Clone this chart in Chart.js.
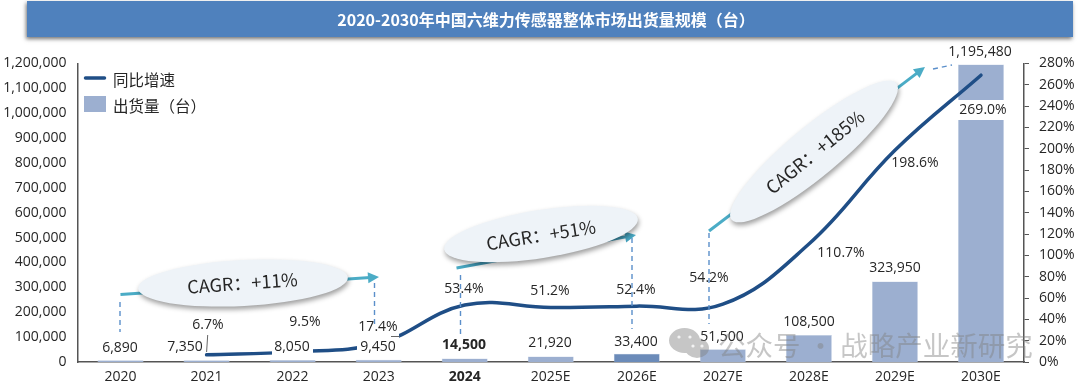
<!DOCTYPE html>
<html><head><meta charset="utf-8">
<style>html,body{margin:0;padding:0;background:#fff;overflow:hidden}canvas{display:block}</style>
<script src="https://cdn.jsdelivr.net/npm/chart.js@4"></script></head>
<body><canvas id="c" width="1080" height="387"></canvas>
<script>
const categories = ['2020','2021','2022','2023','2024','2025E','2026E','2027E','2028E','2029E','2030E'];
const shipments = [6890,7350,8050,9450,14500,21920,33400,51500,108500,323950,1195480];
const growth = [null,6.7,9.5,17.4,53.4,51.2,52.4,54.2,110.7,198.6,269.0];
const barTickMax = 1200000, growthTickMax = 280;

const titleText = '2020-2030年中国六维力传感器整体市场出货量规模（台）';
const FONT = '"Open Sans","Noto Sans CJK SC",sans-serif';
const CJK = '"Noto Sans CJK SC","Open Sans",sans-serif';
const INK = '#262626', BAR = '#9cafd0', BAR_DARK = '#6b8bb9', LINE = '#1f4e86', TEAL = '#4bacc6', DASH = '#5b8fca';

// label placement (pixels of the text centre)
const barLabelPos = [[120,348],[185,347],[292,347],[378,347],[464,345],[550,343],[636,342],[722,337],[809,322],[895,268],[980,52]];
const growthLabelPos = [null,[208,325],[305,322],[378,327],[464,289],[550,291],[636,290],[709,278],[841,253],[915,163],[983,110]];
const growthLabelBg = [0,0,0,0,0,0,0,0,0,0,1];
// white patches behind labels that interrupt the line
const maskRects = [[272,342,41,16],[357,333,42,25]];

function ellipse(ctx,cx,cy,rx,ry,rot){
  ctx.save();
  ctx.shadowColor='rgba(0,0,0,.38)';ctx.shadowBlur=5;ctx.shadowOffsetX=1;ctx.shadowOffsetY=3;
  ctx.fillStyle='#eef3f8';ctx.beginPath();ctx.ellipse(cx,cy,rx,ry,rot*Math.PI/180,0,Math.PI*2);ctx.fill();
  ctx.restore();
}
function rotText(ctx,t,x,y,rot){
  ctx.save();ctx.translate(x,y);ctx.rotate(rot*Math.PI/180);
  ctx.font='18px '+CJK;ctx.fillStyle=INK;ctx.textAlign='center';ctx.textBaseline='middle';
  ctx.fillText(t,0,0);ctx.restore();
}
function arrow(ctx,x0,y0,x1,y1,style){
  const a=Math.atan2(y1-y0,x1-x0),L=11,W=5.5;
  ctx.save();ctx.strokeStyle=style;ctx.fillStyle=style;ctx.lineWidth=3;
  ctx.beginPath();ctx.moveTo(x0,y0);ctx.lineTo(x1-L*.8*Math.cos(a),y1-L*.8*Math.sin(a));ctx.stroke();
  ctx.beginPath();ctx.moveTo(x1,y1);
  ctx.lineTo(x1-L*Math.cos(a)+W*Math.sin(a),y1-L*Math.sin(a)-W*Math.cos(a));
  ctx.lineTo(x1-L*Math.cos(a)-W*Math.sin(a),y1-L*Math.sin(a)+W*Math.cos(a));
  ctx.closePath();ctx.fill();ctx.restore();
}
function dash(ctx,x0,y0,x1,y1){
  ctx.save();ctx.strokeStyle=DASH;ctx.lineWidth=1.4;ctx.setLineDash([5,4]);
  ctx.beginPath();ctx.moveTo(x0,y0);ctx.lineTo(x1,y1);ctx.stroke();ctx.restore();
}
function label(ctx,t,p,bg,bold){
  ctx.save();
  ctx.font=(bold?'bold ':'')+'14px '+FONT;ctx.textAlign='center';ctx.textBaseline='middle';
  if(bg){const w=ctx.measureText(t).width+6;ctx.fillStyle='#fff';ctx.fillRect(p[0]-w/2,p[1]-10,w,20);}
  ctx.fillStyle=INK;ctx.fillText(t,p[0],p[1]);ctx.restore();
}

const decor = {
  id:'decor',
  beforeDraw(chart){
    const ctx=chart.ctx;
    ctx.save();
    ctx.shadowColor='rgba(0,0,0,.55)';ctx.shadowBlur=4;ctx.shadowOffsetX=-1;ctx.shadowOffsetY=2;
    ctx.fillStyle='#4f81bd';ctx.fillRect(27,1,1046,36);
    ctx.restore();
    ctx.save();ctx.font='bold 16px '+CJK;ctx.fillStyle='#fff';ctx.textAlign='center';ctx.textBaseline='middle';
    ctx.fillText(titleText,546,20);ctx.restore();
    // legend
    ctx.save();
    ctx.strokeStyle=LINE;ctx.lineWidth=3.5;ctx.lineCap='round';ctx.beginPath();ctx.moveTo(85.5,78);ctx.lineTo(104.5,78);ctx.stroke();
    ctx.fillStyle=BAR;ctx.fillRect(84,96,22,16);
    ctx.font='15.5px '+CJK;ctx.fillStyle=INK;ctx.textBaseline='middle';
    ctx.fillText('同比增速',113,80);ctx.fillText('出货量（台）',113,106);
    ctx.restore();
  },
  afterDraw(chart){
    const ctx=chart.ctx;
    const fmt=v=>v.toLocaleString('en-US');
    ctx.save();ctx.fillStyle='#fff';maskRects.forEach(r=>ctx.fillRect(r[0],r[1],r[2],r[3]));ctx.restore();
    // leaders
    ctx.save();ctx.strokeStyle='#666';ctx.lineWidth=1;
    ctx.beginPath();ctx.moveTo(207.7,335);ctx.lineTo(206.6,352);ctx.stroke();
    ctx.beginPath();ctx.moveTo(391,336.5);ctx.lineTo(399.5,336.5);ctx.stroke();ctx.restore();
    shipments.forEach((v,i)=>label(ctx,fmt(v),barLabelPos[i],false,categories[i]==='2024'));
    growth.forEach((v,i)=>{ if(v!==null) label(ctx,v.toFixed(1)+'%',growthLabelPos[i],growthLabelBg[i],false); });
    // dashed droppers
    dash(ctx,120,302,120,332);
    dash(ctx,374.5,283,374.5,326);
    dash(ctx,460.5,275,460.5,334);
    dash(ctx,632,238,632,329);
    dash(ctx,709,233,709,324);
    dash(ctx,933,69,952,65);
    // arrows
    arrow(ctx,120.5,294.5,379,277,TEAL);
    const g=ctx.createLinearGradient(456,268,636,235);
    g.addColorStop(0,TEAL);g.addColorStop(.55,'#1f5f86');g.addColorStop(1,TEAL);
    arrow(ctx,456.5,268,636,235,g);
    arrow(ctx,709,231,925,67,TEAL);
    // ellipses
    ellipse(ctx,243,283,105,23,-3);
    rotText(ctx,'CAGR：+11%',242.5,283,-4);
    ellipse(ctx,541,234,98,24,-9);
    rotText(ctx,'CAGR：+51%',541,235,-9);
    ellipse(ctx,814,151.5,107,25,-39.6);
    rotText(ctx,'CAGR：+185%',815,152,-39);
    // watermark
    ctx.save();ctx.globalAlpha=.45;ctx.fillStyle='#808080';
    ctx.beginPath();ctx.ellipse(684.5,340.5,15.5,12.5,0,0,Math.PI*2);ctx.ellipse(697,348,12,10,0,0,Math.PI*2);ctx.fill();
    ctx.font='27.5px '+CJK;ctx.textBaseline='middle';ctx.fillText('公众号 · 战略产业新研究',718,346);
    ctx.restore();
    ctx.save();ctx.fillStyle='rgba(255,255,255,.8)';
    [[679,337],[690,337],[693,346],[702,346]].forEach(e=>{ctx.beginPath();ctx.arc(e[0],e[1],1.6,0,Math.PI*2);ctx.fill();});
    ctx.restore();
  }
};

new Chart(document.getElementById('c'),{
  data:{labels:categories,datasets:[
    {type:'line',label:'同比增速',data:growth,yAxisID:'y2',order:0,borderColor:LINE,borderWidth:3.5,pointRadius:0,tension:.4,borderCapStyle:'round',clip:false},
    {type:'bar',label:'出货量（台）',data:shipments,yAxisID:'y',order:1,barPercentage:.534,categoryPercentage:1,
     backgroundColor:categories.map(c=>c==='2026E'?BAR_DARK:BAR),borderColor:'#c3d0e4',borderWidth:.5}
  ]},
  options:{
    responsive:false,animation:false,
    layout:{padding:{top:63.5,left:0,right:0,bottom:0}},
    plugins:{legend:{display:false},title:{display:false},tooltip:{enabled:false}},
    scales:{
      x:{grid:{display:false,drawTicks:false},border:{color:'#555',width:1.5},
         ticks:{color:INK,padding:7,maxRotation:0,autoSkip:false,
           font:c=>({family:FONT,size:14,weight:categories[c.index]==='2024'?'bold':'normal'})},
         afterFit(s){s.height=25;}},
      y:{position:'left',min:0,max:barTickMax,grid:{display:false,drawTicks:false},border:{color:'#555',width:1.5},
         ticks:{stepSize:100000,color:INK,padding:11,font:{family:FONT,size:14},callback:v=>v.toLocaleString('en-US')},
         afterFit(s){s.width=77.5;}},
      y2:{position:'right',min:0,max:growthTickMax,grid:{drawOnChartArea:false,drawTicks:true,tickLength:5,color:'#555'},border:{color:'#555',width:1.5},
         ticks:{stepSize:20,color:INK,padding:10,font:{family:FONT,size:14},callback:v=>v+'%'},
         afterFit(s){s.width=56;}}
    }
  },
  plugins:[decor]
});
</script></body></html>
